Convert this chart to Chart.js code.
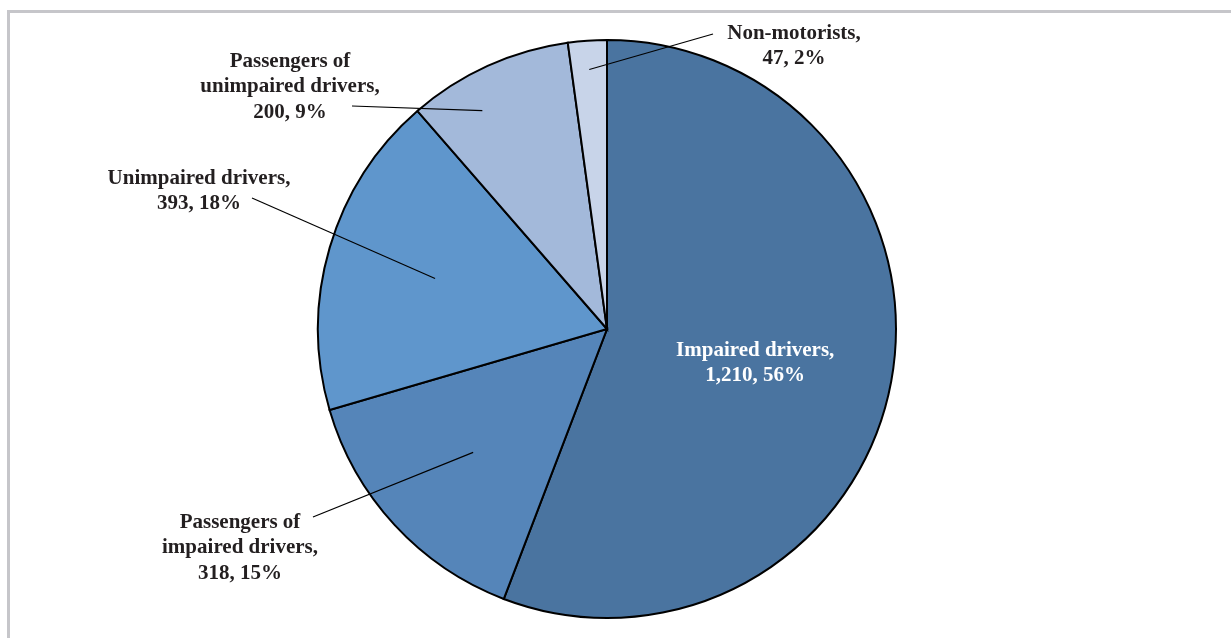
<!DOCTYPE html>
<html>
<head>
<meta charset="utf-8">
<script src="https://cdn.jsdelivr.net/npm/chart.js@4"></script>
<style>
  html, body { margin: 0; padding: 0; background: #ffffff; }
  #wrap { position: relative; width: 1231px; height: 638px; overflow: hidden; }
  #frame { position: absolute; left: 7px; top: 10px; width: 1300px; height: 700px;
           border-top: 3px solid #c6c6ca; border-left: 3px solid #c6c6ca; }
  canvas { position: absolute; left: 0; top: 0; }
</style>
</head>
<body>
<div id="wrap">
  <div id="frame"></div>
  <canvas id="c" width="1231" height="638"></canvas>
</div>
<script>
// ---- data ----
const categories = [
  "Impaired drivers",
  "Passengers of impaired drivers",
  "Unimpaired drivers",
  "Passengers of unimpaired drivers",
  "Non-motorists"
];
const fatalities = [1210, 318, 393, 200, 47];
const percents = ["56%", "15%", "18%", "9%", "2%"];
const labelLines = [
  ["Impaired drivers,", "1,210, 56%"],
  ["Passengers of", "impaired drivers,", "318, 15%"],
  ["Unimpaired drivers,", "393, 18%"],
  ["Passengers of", "unimpaired drivers,", "200, 9%"],
  ["Non-motorists,", "47, 2%"]
];
const sliceColors = ["#4a74a0", "#5585b9", "#5f96cc", "#a3b9da", "#c8d4e9"];

// ---- label layout (offsets relative to pie centre, px) ----
// t: position between slice start (0) and end (1) angle; frac: fraction of radius
const labelLayout = [
  { inside: true, t: 0.512, frac: 0.526, color: "#ffffff" },
  { tx: -367, ty: 219, lx: -294, ly: 188, t: 0.5, frac: 0.63, color: "#231f20" },
  { tx: -408, ty: -138, lx: -355, ly: -131, t: 0.5, frac: 0.62, color: "#231f20" },
  { tx: -317, ty: -242, lx: -255, ly: -223, t: 0.34, frac: 0.87, color: "#231f20" },
  { tx: 187, ty: -283, lx: 106, ly: -295, t: 0.5, frac: 0.90, color: "#231f20" }
];
const FONT = "bold 21px 'Liberation Serif', 'Times New Roman', serif";
const LINE_H = 25.5;

const labelPlugin = {
  id: "sliceLabels",
  afterDatasetsDraw(chart) {
    const ctx = chart.ctx;
    const meta = chart.getDatasetMeta(0);
    ctx.save();
    ctx.font = FONT;
    ctx.textAlign = "center";
    ctx.textBaseline = "middle";
    meta.data.forEach((arc, i) => {
      const p = arc.getProps(["x", "y", "startAngle", "endAngle", "outerRadius"], true);
      const L = labelLayout[i];
      const ang = p.startAngle + (p.endAngle - p.startAngle) * L.t;
      const lines = labelLines[i];
      let cx, cy;
      if (L.inside) {
        cx = p.x + Math.cos(ang) * p.outerRadius * L.frac;
        cy = p.y + Math.sin(ang) * p.outerRadius * L.frac;
      } else {
        cx = p.x + L.tx;
        cy = p.y + L.ty;
        const ax = p.x + Math.cos(ang) * p.outerRadius * L.frac;
        const ay = p.y + Math.sin(ang) * p.outerRadius * L.frac;
        ctx.beginPath();
        ctx.strokeStyle = "#000000";
        ctx.lineWidth = 1.2;
        ctx.moveTo(p.x + L.lx, p.y + L.ly);
        ctx.lineTo(ax, ay);
        ctx.stroke();
      }
      ctx.fillStyle = L.color;
      const y0 = cy - (lines.length - 1) * LINE_H / 2;
      lines.forEach((t, k) => ctx.fillText(t, cx, y0 + k * LINE_H));
    });
    ctx.restore();
  }
};

new Chart(document.getElementById("c"), {
  type: "pie",
  data: {
    labels: categories,
    datasets: [{
      data: fatalities,
      backgroundColor: sliceColors,
      borderColor: "#000000",
      borderWidth: 2,
      hoverOffset: 0,
      borderJoinStyle: "miter"
    }]
  },
  options: {
    responsive: false,
    animation: false,
    events: [],
    layout: { padding: { left: 317, right: 334, top: 39, bottom: 19 } },
    plugins: {
      legend: { display: false },
      tooltip: { enabled: false }
    }
  },
  plugins: [labelPlugin]
});
</script>
</body>
</html>
